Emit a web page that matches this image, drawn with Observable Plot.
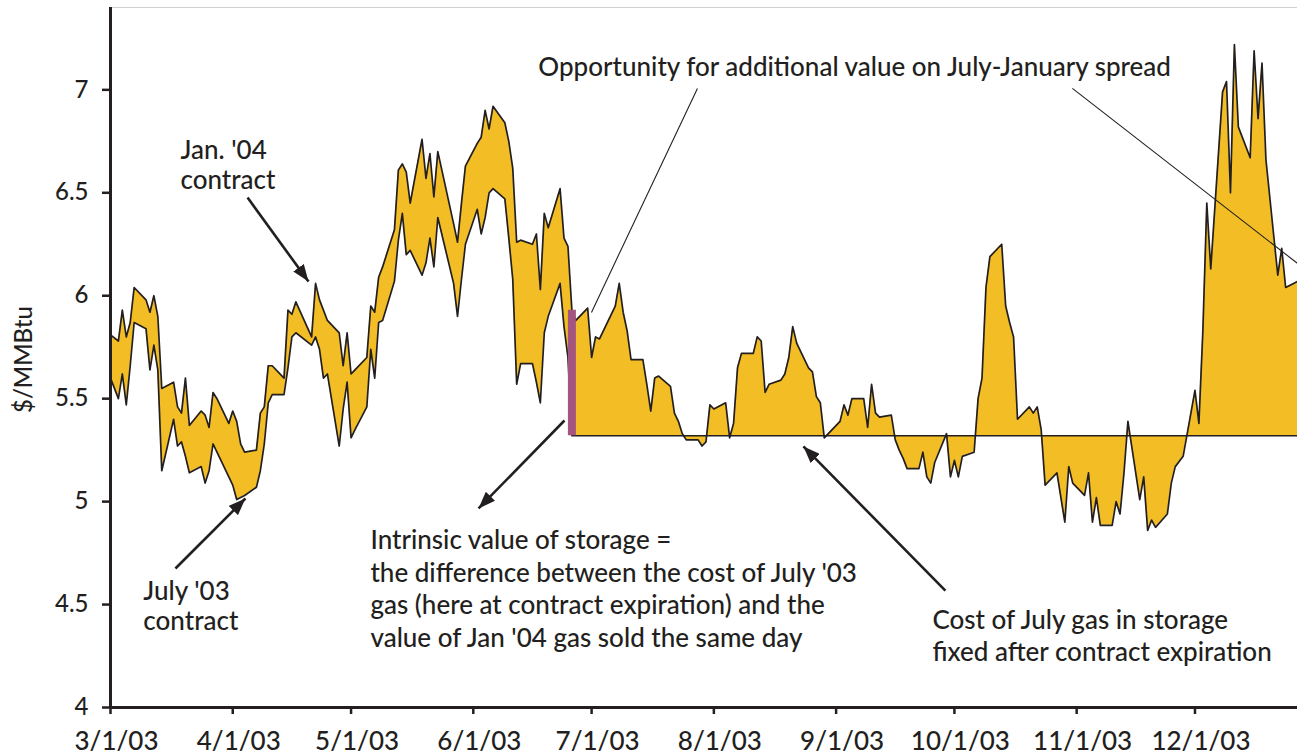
<!DOCTYPE html>
<html>
<head>
<meta charset="utf-8">
<script src="https://cdn.jsdelivr.net/npm/d3@7"></script>
<script src="https://cdn.jsdelivr.net/npm/@observablehq/plot@0.6"></script>
<style>
  html, body { margin: 0; padding: 0; background: #ffffff; }
  #chart svg { display: block; }
</style>
</head>
<body>
<div id="chart"></div>
<script>
// ---------- DATA ----------
// Trading days before the July '03 contract expired (both contracts quoted), $/MMBtu
const preDates = [
  "03-01","03-03","03-04","03-05","03-06","03-07","03-10","03-11","03-12","03-13","03-14","03-17","03-18","03-19","03-20","03-21","03-24","03-25","03-26","03-27","03-28","03-31",
  "04-01","04-02","04-03","04-04","04-07","04-08","04-09","04-10","04-11","04-14","04-15","04-16","04-17","04-21","04-22","04-23","04-24","04-25","04-28","04-29","04-30",
  "05-01","05-02","05-05","05-06","05-07","05-08","05-09","05-12","05-13","05-14","05-15","05-16","05-19","05-20","05-21","05-22","05-23","05-27","05-28","05-29","05-30",
  "06-02","06-03","06-04","06-05","06-06","06-09","06-10","06-11","06-12","06-13","06-16","06-17","06-18","06-19","06-20","06-23","06-24","06-25","06-26"
];
const jan04Pre = [
  5.81,5.78,5.93,5.80,5.87,6.04,5.98,5.92,6.00,5.90,5.55,5.58,5.46,5.43,5.60,5.37,5.44,5.42,5.36,5.53,5.50,5.38,
  5.44,5.39,5.28,5.24,5.25,5.43,5.46,5.66,5.66,5.60,5.93,5.91,5.97,5.80,6.06,5.98,5.93,5.88,5.82,5.66,5.82,
  5.62,5.64,5.70,5.95,5.92,6.09,6.14,6.32,6.61,6.64,6.60,6.45,6.76,6.57,6.69,6.48,6.70,6.35,6.26,6.45,6.63,
  6.74,6.77,6.90,6.81,6.92,6.84,6.75,6.62,6.26,6.27,6.25,6.30,6.03,6.40,6.33,6.52,6.28,6.24,5.93
];
const jul03Pre = [
  5.60,5.50,5.62,5.47,5.66,5.87,5.84,5.64,5.76,5.64,5.15,5.40,5.27,5.29,5.22,5.14,5.17,5.09,5.15,5.28,5.24,5.12,
  5.08,5.01,5.02,5.03,5.07,5.15,5.28,5.48,5.52,5.52,5.65,5.80,5.82,5.76,5.80,5.74,5.60,5.62,5.27,5.45,5.58,
  5.31,5.35,5.46,5.74,5.60,5.87,5.88,6.07,6.27,6.40,6.20,6.22,6.10,6.16,6.28,6.14,6.38,6.06,5.90,6.08,6.25,
  6.42,6.30,6.38,6.50,6.52,6.47,6.28,6.08,5.57,5.67,5.67,5.58,5.48,5.82,5.90,6.06,5.85,5.70,5.32
];
// After expiration: Jan '04 quotes; cost of July gas in storage stays fixed
const postDates = [
  "06-27","06-30","07-01","07-02","07-03","07-07","07-08","07-09","07-10","07-11","07-14","07-15","07-16","07-17","07-18","07-21","07-22","07-23","07-24","07-25","07-28","07-29","07-30","07-31",
  "08-01","08-04","08-05","08-06","08-07","08-08","08-11","08-12","08-13","08-14","08-15","08-18","08-19","08-20","08-21","08-22","08-25","08-26","08-27","08-28","08-29",
  "09-02","09-03","09-04","09-05","09-08","09-09","09-10","09-11","09-12","09-15","09-16","09-17","09-18","09-19","09-22","09-23","09-24","09-25","09-26","09-29","09-30",
  "10-01","10-02","10-03","10-06","10-07","10-08","10-09","10-10","10-13","10-14","10-15","10-16","10-17","10-20","10-21","10-22","10-23","10-24","10-27","10-28","10-29","10-30","10-31",
  "11-03","11-04","11-05","11-06","11-07","11-10","11-11","11-12","11-13","11-14","11-17","11-18","11-19","11-20","11-21","11-24","11-25","11-26","11-28",
  "12-01","12-02","12-03","12-04","12-05","12-08","12-09","12-10","12-11","12-12","12-15","12-16","12-17","12-18","12-19","12-22","12-23","12-24","12-26","12-27"
];
const jan04Post = [
  5.88,5.94,5.70,5.80,5.79,5.95,6.06,5.92,5.83,5.69,5.69,5.57,5.44,5.60,5.61,5.56,5.43,5.39,5.33,5.30,5.30,5.27,5.29,5.47,
  5.45,5.48,5.31,5.38,5.65,5.72,5.72,5.80,5.78,5.53,5.57,5.59,5.62,5.70,5.85,5.77,5.65,5.63,5.51,5.48,5.31,
  5.39,5.47,5.42,5.50,5.50,5.36,5.57,5.43,5.41,5.42,5.30,5.25,5.21,5.16,5.16,5.24,5.12,5.09,5.19,5.33,5.12,
  5.20,5.12,5.22,5.24,5.50,5.60,6.04,6.19,6.25,5.95,5.87,5.80,5.40,5.46,5.43,5.46,5.35,5.08,5.14,5.02,4.90,5.17,5.09,
  5.03,5.14,4.90,5.02,4.885,4.885,5.00,4.94,5.14,5.39,5.01,5.12,4.86,4.91,4.875,4.94,5.09,5.17,5.22,
  5.54,5.38,5.83,6.45,6.13,6.99,7.04,6.50,7.22,6.82,6.67,7.19,6.86,7.13,6.66,6.10,6.23,6.04,6.06,6.07
];
const julyCostFixed = 5.32;          // July '03 gas cost, fixed at expiration
const expiryDate = "2003-06-26";
const expiryJan = 5.93;
const expiryJul = 5.32;

const yTicks = [4, 4.5, 5, 5.5, 6, 6.5, 7];
const monthTicks = ["2003-03-01","2003-04-01","2003-05-01","2003-06-01","2003-07-01","2003-08-01","2003-09-01","2003-10-01","2003-11-01","2003-12-01"];
const xDomain = ["2003-03-01", "2003-12-27"];
const yDomain = [4, 7.4];

// Annotations (data coordinates)
const labels = [
  {x: "2003-03-18T18:00Z", y: 6.64, text: "Jan. '04\ncontract", lh: 1.16},
  {x: "2003-03-09T08:00Z", y: 4.495, text: "July '03\ncontract", lh: 1.16},
  {x: "2003-06-17T12:00Z", y: 7.118, text: "Opportunity for additional value on July-January spread", lh: 1.2},
  {x: "2003-05-05T22:00Z", y: 4.583, text: "Intrinsic value of storage =\nthe difference between the cost of July '03\ngas (here at contract expiration) and the\nvalue of Jan '04 gas sold the same day", lh: 1.26},
  {x: "2003-09-25T10:00Z", y: 4.355, text: "Cost of July gas in storage\nfixed after contract expiration", lh: 1.23}
];
const arrows = [
  {x1: "2003-04-04T18:00Z", y1: 6.477, x2: "2003-04-20T05:00Z", y2: 6.069},
  {x1: "2003-03-17T11:00Z", y1: 4.675, x2: "2003-04-04T05:00Z", y2: 5.015},
  {x1: "2003-06-24T03:00Z", y1: 5.394, x2: "2003-06-02T08:00Z", y2: 4.967},
  {x1: "2003-09-28T17:00Z", y1: 4.568, x2: "2003-08-23T17:00Z", y2: 5.268}
];
const leaders = [
  {x1: "2003-07-27T20:00Z", y1: 7.007, x2: "2003-06-30T23:00Z", y2: 5.919},
  {x1: "2003-10-30T22:00Z", y1: 7.007, x2: "2003-12-27T00:00Z", y2: 6.157}
];
const yAxisTitle = "$/MMBtu";

// ---------- BUILD ----------
const parse = s => new Date(s.length === 5 ? "2003-" + s : s);
const rows = [];
preDates.forEach((d, i) => rows.push({date: parse(d), jan: jan04Pre[i], jul: jul03Pre[i]}));
postDates.forEach((d, i) => rows.push({date: parse(d), jan: jan04Post[i], jul: julyCostFixed}));

const ink = "#231f20";
const fillGold = "#f3bd25";
const purple = "#a3547f";

function filledArrow(color) {
  const ns = "http://www.w3.org/2000/svg";
  const m = document.createElementNS(ns, "marker");
  m.setAttribute("viewBox", "-17 -6.5 17 13");
  m.setAttribute("markerWidth", 17);
  m.setAttribute("markerHeight", 13);
  m.setAttribute("markerUnits", "userSpaceOnUse");
  m.setAttribute("orient", "auto");
  m.setAttribute("refX", 0);
  m.setAttribute("refY", 0);
  const p = document.createElementNS(ns, "path");
  p.setAttribute("d", "M-17,-6.5L0,0L-17,6.5Z");
  p.setAttribute("fill", color);
  p.setAttribute("stroke", "none");
  m.appendChild(p);
  return m;
}

const P = v => new Date(v);
const labelMarks = labels.map(l =>
  Plot.text([l], {x: d => P(d.x), y: "y", text: "text", textAnchor: "start", lineAnchor: "middle",
    lineHeight: l.lh, fontSize: 26, fontWeight: 500, fill: ink})
);

const chart = Plot.plot({
  width: 1297,
  height: 755,
  marginLeft: 110,
  marginRight: 0,
  marginTop: 7,
  marginBottom: 48,
  style: {fontFamily: "Lato, 'Open Sans', sans-serif", fontSize: "22px", color: ink, background: "#ffffff", overflow: "visible"},
  x: {type: "utc", domain: xDomain.map(P)},
  y: {domain: yDomain},
  marks: [
    Plot.ruleY([yDomain[1]], {stroke: "#cfcfcf", strokeWidth: 1}),
    Plot.areaY(rows, {x: "date", y1: "jul", y2: "jan", fill: fillGold, curve: "linear"}),
    Plot.lineY(rows, {x: "date", y: "jul", stroke: ink, strokeWidth: 1.7, curve: "linear"}),
    Plot.lineY(rows, {x: "date", y: "jan", stroke: ink, strokeWidth: 1.7, curve: "linear"}),
    Plot.ruleX([{d: P(expiryDate), a: expiryJul, b: expiryJan}], {x: "d", y1: "a", y2: "b", stroke: purple, strokeWidth: 8}),
    Plot.link(leaders, {x1: d => P(d.x1), y1: "y1", x2: d => P(d.x2), y2: "y2", stroke: ink, strokeWidth: 1.1}),
    Plot.link(arrows, {x1: d => P(d.x1), y1: "y1", x2: d => P(d.x2), y2: "y2", stroke: ink, strokeWidth: 2.6, markerEnd: filledArrow}),
    ...labelMarks,
    Plot.ruleY([yDomain[0]], {stroke: ink, strokeWidth: 3}),
    Plot.ruleX([P(xDomain[0])], {stroke: ink, strokeWidth: 3}),
    Plot.axisY(yTicks, {tickSize: 8, tickPadding: 14, fontSize: 24, fontWeight: 500, stroke: ink, strokeWidth: 2.5, fill: ink, label: null, tickFormat: d => String(d)}),
    Plot.axisX(monthTicks.map(P), {tickSize: 7, stroke: ink, strokeWidth: 2.5, tickFormat: () => "", label: null}),
    Plot.axisX(monthTicks.map(P), {tickSize: 0, tickPadding: 24, dx: 6, fontSize: 26, fontWeight: 500, fill: ink, label: null, tickFormat: d3.utcFormat("%-m/%-d/%y")}),
    Plot.text([yAxisTitle], {x: () => P(xDomain[0]), y: () => 5.69, text: d => d, rotate: -90, dx: -86, fontSize: 24, fontWeight: 500, fill: ink, textAnchor: "middle"})
  ]
});
document.getElementById("chart").appendChild(chart);
</script>
</body>
</html>
